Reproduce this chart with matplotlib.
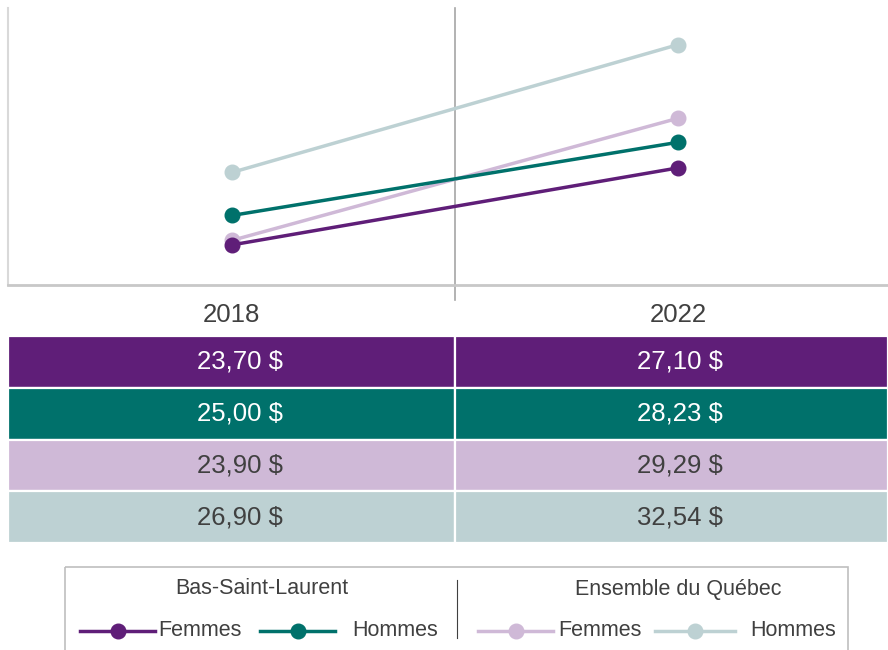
import matplotlib
matplotlib.use("Agg")
import matplotlib.pyplot as plt
from matplotlib.patches import Rectangle
from matplotlib.lines import Line2D
from matplotlib import font_manager

years = ["2018", "2022"]
series_names = ["Femmes", "Hommes", "Femmes", "Hommes"]
groups = ["Bas-Saint-Laurent", "Ensemble du Québec"]
bsl_femmes = [23.70, 27.10]
bsl_hommes = [25.00, 28.23]
qc_femmes = [23.90, 29.29]
qc_hommes = [26.90, 32.54]
labels_2018 = ["23,70 $", "25,00 $", "23,90 $", "26,90 $"]
labels_2022 = ["27,10 $", "28,23 $", "29,29 $", "32,54 $"]

colors = ["#5f1e78", "#00716b", "#cfb9d7", "#bdd1d3"]
text_colors = ["white", "white", "#404040", "#404040"]

avail = {f.name for f in font_manager.fontManager.ttflist}
fam = ["Liberation Sans Narrow", "DejaVu Sans"] if "Liberation Sans Narrow" in avail else ["Liberation Sans", "DejaVu Sans"]
plt.rcParams["font.family"] = fam

W, H = 888, 650
fig = plt.figure(figsize=(W / 100, H / 100), dpi=100)

def px_axes(l, t, r, b):
    return fig.add_axes([l / W, 1 - b / H, (r - l) / W, (b - t) / H])

# Main line chart
ax = px_axes(8, 8, 888, 285)
all_series = [bsl_femmes, bsl_hommes, qc_femmes, qc_hommes]
x = list(range(len(years)))
order = [3, 2, 1, 0]
for i in order:
    ax.plot(x, all_series[i], color=colors[i], lw=2.5, marker="o", ms=10.5, zorder=3 + (3 - i))
ax.set_xlim(-0.502, 1.471)
ax.set_ylim(21.93, 34.16)
ax.set_yticks([])
ax.set_xticks(x)
ax.set_xticklabels(years, fontsize=18.5, color="#404040")
ax.tick_params(axis="x", length=0, pad=13)
for s in ["top", "right"]:
    ax.spines[s].set_visible(False)
ax.spines["left"].set_color("#d9d9d9")
ax.spines["left"].set_linewidth(1.5)
ax.spines["bottom"].set_color("#c8c8c8")
ax.spines["bottom"].set_linewidth(2)
ax.axvline(0.5, ymin=-15 / 277, ymax=1, color="#a6a6a6", lw=1.2, clip_on=False, zorder=2)

# Table
tax = px_axes(8, 336, 888, 543)
tax.set_xlim(-0.502, 1.471)
tax.set_ylim(3.5, -0.5)
rows = list(range(len(labels_2018)))
for j, (left, right) in enumerate([(-0.502, 0.5), (0.5, 1.471)]):
    tax.barh(rows, right - left, left=left, height=1.0, color=colors,
             edgecolor="white", linewidth=1.6)
for r in rows:
    tax.text(0.018, r, labels_2018[r], ha="center", va="center", fontsize=18.5, color=text_colors[r])
    tax.text(1.005, r, labels_2022[r], ha="center", va="center", fontsize=18.5, color=text_colors[r])
tax.axis("off")

# Legend (overlay in pixel coordinates)
lax = fig.add_axes([0, 0, 1, 1])
lax.set_xlim(0, W)
lax.set_ylim(H, 0)
lax.axis("off")
lax.add_patch(Rectangle((65, 567), 783, 100, fill=False, edgecolor="#bfbfbf", lw=1.2))
lax.plot([457, 457], [580, 638], color="#404040", lw=0.8)
lax.text(262, 589, groups[0], ha="center", va="center", fontsize=15.5, color="#404040")
lax.text(678, 589, groups[1], ha="center", va="center", fontsize=15.5, color="#404040")
items = [(80, 155, 158), (260, 335, 352), (478, 553, 558), (655, 735, 750)]
ly = 631
for i, (x0, x1, tx) in enumerate(items):
    lax.add_line(Line2D([x0, x1], [ly, ly], color=colors[i], lw=2.5))
    lax.add_line(Line2D([(x0 + x1) / 2], [ly], color=colors[i], marker="o", ms=10.5))
    lax.text(tx, ly, series_names[i], ha="left", va="center", fontsize=15.5, color="#404040")

fig.savefig("out.png", dpi=100)
